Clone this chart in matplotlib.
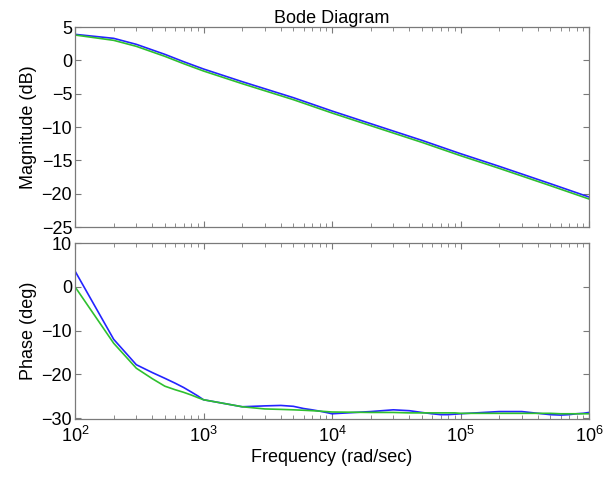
import numpy as np
import matplotlib
matplotlib.use('Agg')
import matplotlib.pyplot as plt
from matplotlib.ticker import LogLocator, NullFormatter

plt.rcParams['font.family'] = ['Liberation Sans', 'DejaVu Sans']
plt.rcParams['mathtext.fontset'] = 'custom'
plt.rcParams['mathtext.rm'] = 'Liberation Sans'
plt.rcParams['font.size'] = 13

# magnitude (dB)
freq_mag = [1e2, 2e2, 3e2, 5e2, 7e2, 1e3, 2e3, 5e3, 1e4, 2e4, 5e4, 1e5, 2e5, 5e5, 1e6]
mag_blue = [3.9, 3.3, 2.4, 0.9, -0.2, -1.3, -3.2, -5.6, -7.6, -9.5, -12.0, -14.0, -15.9, -18.5, -20.5]
mag_green = [3.8, 3.0, 2.1, 0.6, -0.5, -1.6, -3.5, -5.9, -7.9, -9.8, -12.3, -14.3, -16.2, -18.8, -20.8]

# phase (deg)
freq_ph = [1e2, 2e2, 3e2, 4e2, 5e2, 6e2, 7e2, 8e2, 9e2,
           1e3, 2e3, 3e3, 4e3, 5e3, 6e3, 7e3, 8e3, 9e3,
           1e4, 2e4, 3e4, 4e4, 5e4, 6e4, 7e4, 8e4, 9e4,
           1e5, 2e5, 3e5, 4e5, 5e5, 6e5, 7e5, 8e5, 9e5, 1e6]
ph_blue = [3.6, -12.0, -17.8, -19.6, -20.9, -22.0, -23.0, -24.0, -24.9,
           -25.8, -27.4, -27.2, -27.1, -27.3, -27.8, -28.1, -28.4, -28.7,
           -29.0, -28.5, -28.1, -28.3, -28.7, -29.0, -29.2, -29.2, -29.1,
           -29.0, -28.5, -28.5, -28.9, -29.2, -29.3, -29.2, -29.0, -28.9, -28.7]
ph_green = [0.0, -12.9, -18.6, -21.0, -22.7, -23.5, -24.1, -24.7, -25.3,
            -25.8, -27.4, -27.9, -28.0, -28.1, -28.2, -28.3, -28.4, -28.5,
            -28.6, -28.7, -28.7, -28.8, -28.8, -28.8, -28.8, -28.8, -28.8,
            -28.9, -28.9, -28.9, -28.9, -28.9, -29.0, -29.0, -29.0, -29.0, -29.0]

blue = '#2424ff'
green = '#2fc02f'
frame = '#7a7a7a'

fig = plt.figure(figsize=(6.03, 4.78), dpi=100)
ax1 = fig.add_axes([0.1244, 0.5251, 0.8524, 0.4184])
ax2 = fig.add_axes([0.1244, 0.1234, 0.8524, 0.3682])

ax1.plot(freq_mag, mag_blue, color=blue, lw=1.2)
ax1.plot(freq_mag, mag_green, color=green, lw=1.2)
ax2.plot(freq_ph, ph_blue, color=blue, lw=1.2)
ax2.plot(freq_ph, ph_green, color=green, lw=1.2)

for ax in (ax1, ax2):
    ax.set_xscale('log')
    ax.set_xlim(1e2, 1e6)
    ax.xaxis.set_major_locator(LogLocator(base=10, numticks=10))
    ax.xaxis.set_minor_locator(LogLocator(base=10, subs=np.arange(2, 10), numticks=10))
    ax.xaxis.set_minor_formatter(NullFormatter())
    for s in ax.spines.values():
        s.set_color(frame)
        s.set_linewidth(0.9)
    ax.tick_params(which='both', direction='in', top=True, right=True, color=frame)
    ax.tick_params(axis='y', pad=2)
    ax.tick_params(axis='x', pad=5)
    ax.tick_params(which='major', length=4)
    ax.tick_params(which='minor', length=3)

ax1.set_ylim(-25, 5)
ax1.set_yticks([-25, -20, -15, -10, -5, 0, 5])
ax1.set_xticklabels([])
ax1.set_ylabel('Magnitude (dB)', labelpad=3)
ax1.set_title('Bode Diagram', fontsize=13, pad=3)

ax2.set_ylim(-30.2, 10)
ax2.set_yticks([-30, -20, -10, 0, 10])
ax2.set_ylabel('Phase (deg)', labelpad=3)
ax2.set_xlabel('Frequency (rad/sec)', labelpad=2)

fig.align_ylabels([ax1, ax2])
plt.savefig('out.png', dpi=100)
